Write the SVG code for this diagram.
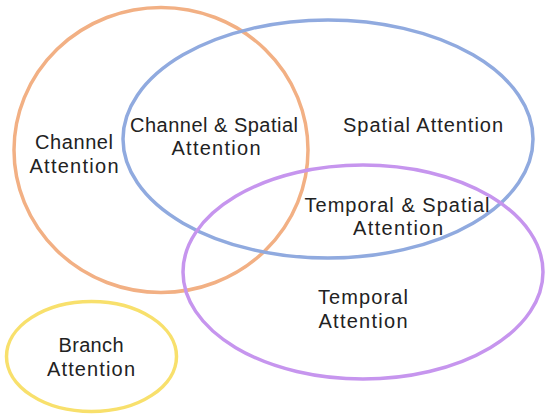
<svg xmlns="http://www.w3.org/2000/svg" width="550" height="419" viewBox="0 0 550 419">
  <style>
    .set { fill: none; stroke-width: 3.5; }
    .lbl { font-family: "Liberation Sans", Arial, sans-serif; font-size: 20px; fill: #222; text-anchor: middle; }
  </style>
  <rect width="550" height="419" fill="#ffffff"/>
  <g id="channel">
    <ellipse class="set" cx="161" cy="150" rx="147" ry="142.5" stroke="#F2B084"/>
    <text class="lbl" x="74" y="149" textLength="78" lengthAdjust="spacing">Channel</text>
    <text class="lbl" x="74" y="173" textLength="89" lengthAdjust="spacing">Attention</text>
  </g>
  <g id="spatial">
    <ellipse class="set" cx="328" cy="139" rx="205" ry="119" stroke="#90AADF"/>
    <text class="lbl" x="423" y="132" textLength="160" lengthAdjust="spacing">Spatial Attention</text>
  </g>
  <g id="temporal">
    <ellipse class="set" cx="363" cy="272" rx="180" ry="107" stroke="#C695EE"/>
    <text class="lbl" x="363" y="304" textLength="90" lengthAdjust="spacing">Temporal</text>
    <text class="lbl" x="363" y="328" textLength="89" lengthAdjust="spacing">Attention</text>
  </g>
  <g id="branch">
    <ellipse class="set" cx="91.5" cy="356.5" rx="85" ry="55" stroke="#F8E06C"/>
    <text class="lbl" x="91" y="352" textLength="65" lengthAdjust="spacing">Branch</text>
    <text class="lbl" x="91" y="376" textLength="88" lengthAdjust="spacing">Attention</text>
  </g>
  <g id="channel-spatial">
    <text class="lbl" x="214" y="132" textLength="168" lengthAdjust="spacing">Channel &amp; Spatial</text>
    <text class="lbl" x="216" y="155" textLength="89" lengthAdjust="spacing">Attention</text>
  </g>
  <g id="temporal-spatial">
    <text class="lbl" x="397" y="212" textLength="185" lengthAdjust="spacing">Temporal &amp; Spatial</text>
    <text class="lbl" x="398" y="235" textLength="90" lengthAdjust="spacing">Attention</text>
  </g>
  <g id="connectors"/>
</svg>
